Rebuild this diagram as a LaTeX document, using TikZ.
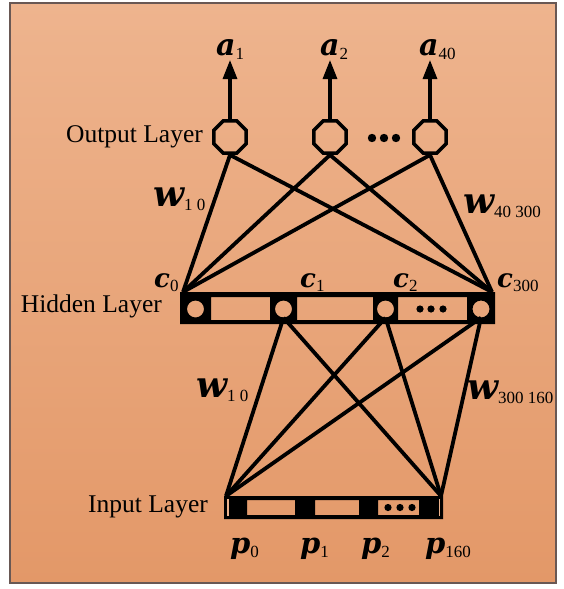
\documentclass[tikz,border=0pt]{standalone}
\usepackage{fontspec}
\setmainfont{Liberation Serif}
\newfontfamily\varfont{DejaVu Serif}
\usetikzlibrary{shapes.geometric,arrows.meta}

\definecolor{papertop}{RGB}{238,180,142}
\definecolor{paperbot}{RGB}{227,152,104}
\definecolor{framegray}{RGB}{105,88,84}
\definecolor{gapcol}{RGB}{236,178,140}

% bold italic variable letter and a lowered upright index
\newcommand\varsym[1]{\fontsize{#1}{#1}\selectfont\varfont\bfseries\itshape}
\newcommand\lowidx[1]{\raisebox{-4pt}{\fontsize{17}{17}\selectfont\rmfamily\mdseries\upshape #1}}

\begin{document}
\begin{tikzpicture}[x=1pt,y=-1pt,
  wire/.style={line width=3.8pt},
  octo/.style={regular polygon, regular polygon sides=8, minimum size=35pt,
               inner sep=0pt, draw, line width=3.6pt},
  slot/.style={circle, minimum size=17pt, inner sep=0pt},
  layername/.style={font=\fontsize{25.5}{26}\selectfont, anchor=east, inner sep=0pt},
  sym/.style={anchor=base west, inner sep=0pt},
  outarrow/.style={line width=3.2pt, -{Triangle[width=14pt,length=19pt]}},
]
\useasboundingbox (0,0) rectangle (563,589);
\fill[white] (0,0) rectangle (563,589);

% paper and frame
\shade[top color=papertop, bottom color=paperbot] (10,3) rectangle (556,583);
\draw[framegray, line width=1.2pt] (10,3) rectangle (556,583);

% ---- output layer ----
\node[octo] (o1) at (230,137) {};
\node[octo] (o2) at (330,137) {};
\node[octo] (o3) at (430,137) {};
\foreach \x in {372,384,396} \fill (\x,138) circle[radius=4.2];

\coordinate (t1) at (230,60);
\coordinate (t2) at (330,60);
\coordinate (t3) at (430,60);
\draw[outarrow] (o1.north) -- (t1);
\draw[outarrow] (o2.north) -- (t2);
\draw[outarrow] (o3.north) -- (t3);

\node[layername] (outlbl) at (203,137) {Output Layer};

% ---- hidden layer ----
\node[slot] (h0) at (195.5,309) {};
\node[slot] (h1) at (283.5,309) {};
\node[slot] (h2) at (385.5,309) {};
\node[slot] (h3) at (481,309) {};
\coordinate (cL) at (183,292);
\coordinate (cR) at (492,292);

% ---- input layer ----
\coordinate (pL) at (226,496);
\coordinate (pR) at (441,496);

% connections output -> hidden
\foreach \o in {o1,o2,o3}{
  \draw[wire] (\o.south) -- (cL);
  \draw[wire] (\o.south) -- (cR);
}
% connections hidden -> input
\foreach \h in {h1,h2,h3}{
  \draw[wire] (\h.south) -- (pL);
  \draw[wire] (\h.south) -- (pR);
}

% hidden bar: black frame with open cells and round units
\fill[black, even odd rule]
  (180,292) rectangle (495,324)
  (211,297) rectangle (270,320)
  (297,297) rectangle (373,320)
  (398,297) rectangle (467,320)
  (h0.center) circle[radius=8.5]
  (h1.center) circle[radius=8.5]
  (h2.center) circle[radius=8.5]
  (h3.center) circle[radius=8.5];
\foreach \x in {420,431,443} \fill (\x,309) circle[radius=3.6];

\node[layername] (hidlbl) at (162,306) {Hidden Layer};

% input bar
\fill[black, even odd rule]
  (224,496) rectangle (443,519)
  (247,500) rectangle (295,515)
  (315,500) rectangle (359,515)
  (378,500) rectangle (419,515);
\draw[gapcol, line width=1.1pt] (228,499) -- (228,516);
\draw[gapcol, line width=1.1pt] (439.5,499) -- (439.5,516);
\foreach \x in {388,400,412} \fill (\x,507.5) circle[radius=3.6];

\node[layername] (inlbl) at (208,507) {Input Layer};

% ---- symbols ----
\node[sym, font=\varsym{30}] (a1)  at (216,55) {a\lowidx{1}};
\node[sym, font=\varsym{30}] (a2)  at (320,55) {a\lowidx{2}};
\node[sym, font=\varsym{30}] (a40) at (419,55) {a\lowidx{40}};

\node[sym, font=\varsym{26}] (c0)   at (154,287) {c\lowidx{0}};
\node[sym, font=\varsym{26}] (c1)   at (300,287) {c\lowidx{1}};
\node[sym, font=\varsym{26}] (c2)   at (393,287) {c\lowidx{2}};
\node[sym, font=\varsym{26}] (c300) at (497,287) {c\lowidx{300}};

\node[sym, font=\varsym{36}] (wo)  at (153,206) {w\lowidx{1 0}};
\node[sym, font=\varsym{36}] (wo2) at (463,213) {w\lowidx{40 300}};
\node[sym, font=\varsym{36}] (wi)  at (196,397) {w\lowidx{1 0}};
\node[sym, font=\varsym{36}] (wi2) at (467,399) {w\lowidx{300 160}};

\node[sym, font=\varsym{29}] (p0)   at (230,553) {p\lowidx{0}};
\node[sym, font=\varsym{29}] (p1)   at (300,553) {p\lowidx{1}};
\node[sym, font=\varsym{29}] (p2)   at (361,553) {p\lowidx{2}};
\node[sym, font=\varsym{29}] (p160) at (425,553) {p\lowidx{160}};
\end{tikzpicture}
\end{document}
